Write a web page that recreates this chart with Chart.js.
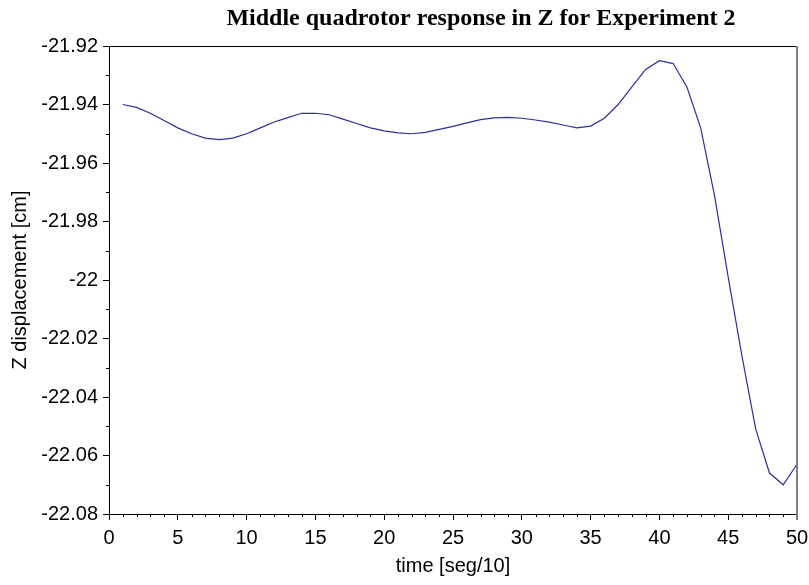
<!DOCTYPE html>
<html>
<head>
<meta charset="utf-8">
<script src="https://cdn.jsdelivr.net/npm/chart.js@4/dist/chart.umd.min.js"></script>
<style>
  html, body { margin: 0; padding: 0; background: #fff; }
  #wrap { width: 809px; height: 585px; }
</style>
</head>
<body>
<div id="wrap"><canvas id="myChart" width="809" height="585"></canvas></div>
<script>
// Z displacement of the middle quadrotor, one sample per time step
var time = [];
for (var i = 1; i <= 50; i++) time.push(i);
var zDisp = [
  -21.940, -21.941, -21.943, -21.9455, -21.948, -21.950, -21.9515, -21.952, -21.9515, -21.950,
  -21.948, -21.946, -21.9445, -21.943, -21.943, -21.9435, -21.945, -21.9465, -21.948, -21.949,
  -21.9497, -21.950, -21.9495, -21.9485, -21.9475, -21.9463, -21.9452, -21.9446, -21.9444, -21.9447,
  -21.9453, -21.946, -21.947, -21.948, -21.9474, -21.9447, -21.940, -21.934, -21.928, -21.925,
  -21.926, -21.934, -21.948, -21.971, -21.999, -22.026, -22.051, -22.066, -22.070, -22.063
];
var xTicks = [0, 5, 10, 15, 20, 25, 30, 35, 40, 45, 50];
var yTicks = [-21.92, -21.94, -21.96, -21.98, -22, -22.02, -22.04, -22.06, -22.08];
var titleText = 'Middle quadrotor response in Z for Experiment 2';

var points = time.map(function (t, k) { return { x: t, y: zDisp[k] }; });

// title (sits a bit right of centre in the original), minor ticks, top/right frame
var frame = {
  id: 'frame',
  afterDraw: function (chart) {
    var c = chart.ctx, a = chart.chartArea;
    var xs = chart.scales.x, ys = chart.scales.y;
    c.save();
    c.fillStyle = '#000';
    c.font = 'bold 24px "Liberation Serif", "Times New Roman", serif';
    c.textAlign = 'center';
    c.textBaseline = 'middle';
    c.fillText(titleText, 481, 19);

    c.strokeStyle = '#000';
    c.lineWidth = 1;
    c.beginPath();
    for (var v = 1; v < 50; v++) {
      if (v % 5 === 0) continue;
      var px = Math.round(xs.getPixelForValue(v)) + 0.5;
      c.moveTo(px, a.bottom);
      c.lineTo(px, a.bottom + 3);
    }
    for (var k = 0; k < yTicks.length - 1; k++) {
      var mid = (yTicks[k] + yTicks[k + 1]) / 2;
      var py = Math.round(ys.getPixelForValue(mid)) + 0.5;
      c.moveTo(a.left, py);
      c.lineTo(a.left - 3, py);
    }
    c.stroke();
    c.beginPath();
    c.moveTo(a.left, Math.round(a.top) + 0.5);
    c.lineTo(a.right, Math.round(a.top) + 0.5);
    c.stroke();
    c.strokeStyle = '#7f7f7f';
    c.lineWidth = 2;
    c.beginPath();
    c.moveTo(a.right, a.top);
    c.lineTo(a.right, a.bottom + 6);
    c.stroke();
    c.restore();
  }
};

var ctx = document.getElementById('myChart').getContext('2d');
var myChart = new Chart(ctx, {
  type: 'line',
  data: {
    datasets: [{
      data: points,
      borderColor: '#2e2ea0',
      borderWidth: 1.2,
      pointRadius: 0,
      tension: 0,
      fill: false
    }]
  },
  options: {
    responsive: false,
    animation: false,
    layout: { padding: { left: 0, right: 12, top: 46, bottom: 0 } },
    plugins: {
      legend: { display: false },
      tooltip: { enabled: false },
      title: { display: false }
    },
    scales: {
      x: {
        type: 'linear',
        min: 0,
        max: 50,
        afterBuildTicks: function (s) { s.ticks = xTicks.map(function (v) { return { value: v }; }); },
        afterFit: function (s) { s.height = 71; s.paddingLeft = 0; s.paddingRight = 0; },
        grid: { drawOnChartArea: false, tickLength: 6, color: '#000' },
        border: { color: '#000', width: 1 },
        ticks: {
          color: '#000',
          padding: 6,
          maxRotation: 0,
          font: { family: '"Liberation Sans", Arial, sans-serif', size: 20 }
        },
        title: {
          display: true,
          text: 'time [seg/10]',
          color: '#000',
          font: { family: '"Liberation Sans", Arial, sans-serif', size: 20 },
          padding: { top: 2, bottom: 7 }
        }
      },
      y: {
        min: -22.08,
        max: -21.92,
        afterBuildTicks: function (s) { s.ticks = yTicks.map(function (v) { return { value: v }; }); },
        afterFit: function (s) { s.width = 109; s.paddingTop = 0; s.paddingBottom = 0; },
        grid: { drawOnChartArea: false, tickLength: 6, color: '#000' },
        border: { color: '#000', width: 1 },
        ticks: {
          color: '#000',
          padding: 5,
          font: { family: '"Liberation Sans", Arial, sans-serif', size: 20 },
          callback: function (v) { return String(parseFloat(v.toFixed(2))); }
        },
        title: {
          display: true,
          text: 'Z displacement [cm]',
          color: '#000',
          font: { family: '"Liberation Sans", Arial, sans-serif', size: 20 },
          padding: { top: 8, bottom: 0 }
        }
      }
    }
  },
  plugins: [frame]
});
</script>
</body>
</html>
